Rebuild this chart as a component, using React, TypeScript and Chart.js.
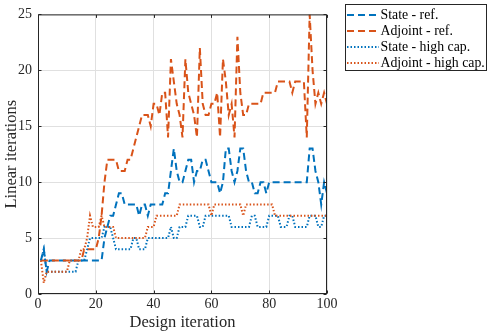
import React, { useEffect, useRef } from "react";
import { Chart, registerables } from "chart.js";

Chart.register(...registerables);

// Design iterations 1..100
const iterations: number[] = Array.from({ length: 100 }, (_, i) => i + 1);

const stateRef: number[] = [
  3, 4, 2, 3, 3, 3, 3, 3, 3, 3,
  3, 3, 3, 3, 3, 3, 3, 3, 3, 3,
  3, 3, 5, 6, 7, 7, 8, 9, 9, 8,
  8, 8, 8, 8, 7, 8, 8, 7, 8, 8,
  8, 8, 8, 9, 9, 11, 13, 11, 10, 10,
  11, 12, 12, 10, 11, 11, 12, 12, 11, 10,
  10, 10, 9, 10, 13, 13, 11, 10, 11, 13,
  13, 11, 10, 10, 9, 9, 10, 10, 9, 10,
  10, 10, 10, 10, 10, 10, 10, 10, 10, 10,
  10, 10, 10, 13, 13, 11, 10, 8, 10, 9,
];

const adjointRef: number[] = [
  3, 3, 3, 3, 3, 3, 3, 3, 3, 3,
  3, 3, 3, 3, 3, 4, 4, 4, 4, 4,
  5, 7, 10, 12, 12, 12, 12, 11, 11, 11,
  12, 12, 13, 14, 15, 16, 16, 16, 15, 17,
  17, 16, 18, 18, 14, 21, 19, 17, 16, 14,
  21, 18, 17, 16, 14, 22, 17, 16, 16, 17,
  17, 18, 14, 21, 19, 16, 17, 14, 23, 18,
  16, 16, 17, 17, 17, 17, 17, 18, 18, 18,
  18, 18, 19, 19, 19, 19, 19, 18, 19, 19,
  19, 19, 14, 25, 20, 17, 18, 17, 18, 17,
];

const stateHigh: number[] = [
  3, 4, 2, 2, 2, 2, 2, 2, 2, 2,
  2, 2, 2, 3, 3, 3, 4, 5, 5, 5,
  5, 5, 6, 6, 6, 5, 4, 4, 4, 4,
  4, 4, 5, 5, 4, 4, 4, 5, 5, 5,
  5, 5, 5, 5, 5, 6, 5, 5, 6, 6,
  6, 7, 7, 7, 7, 6, 6, 7, 7, 7,
  7, 7, 7, 7, 7, 7, 6, 6, 6, 6,
  6, 6, 6, 7, 7, 6, 6, 6, 6, 7,
  7, 7, 7, 6, 6, 6, 7, 7, 6, 6,
  6, 6, 6, 7, 7, 7, 6, 6, 7, 7,
];

const adjointHigh: number[] = [
  3, 1, 2, 2, 2, 2, 2, 2, 2, 2,
  3, 3, 3, 3, 4, 4, 5, 7, 6, 6,
  6, 7, 6, 6, 6, 6, 5, 5, 5, 5,
  5, 5, 5, 5, 5, 5, 5, 6, 6, 6,
  7, 7, 7, 7, 7, 7, 7, 7, 8, 8,
  8, 8, 8, 8, 8, 8, 8, 8, 8, 7,
  8, 8, 8, 8, 8, 8, 8, 8, 8, 8,
  7, 8, 8, 8, 8, 8, 8, 8, 8, 8,
  8, 7, 7, 7, 7, 7, 7, 7, 7, 7,
  7, 7, 7, 7, 7, 7, 7, 7, 7, 7,
];

const seriesLabels = ["State - ref.", "Adjoint - ref.", "State - high cap.", "Adjoint - high cap."];
const xTicks = [0, 20, 40, 60, 80, 100];
const yTicks = [0, 5, 10, 15, 20, 25];

const BLUE = "#0072BD";
const ORANGE = "#D95319";
const AXIS = "#262626";
const FONT = "'Liberation Serif', 'Times New Roman', serif";

export default function App() {
  const canvasRef = useRef<HTMLCanvasElement | null>(null);

  useEffect(() => {
    document.body.style.margin = "0";
    const canvas = canvasRef.current;
    if (!canvas) return;

    const toPts = (vals: number[]) => vals.map((v, i) => ({ x: iterations[i], y: v }));
    const dash = [7, 4];
    const dot = [1.5, 2];

    const datasets = [
      { label: seriesLabels[0], data: toPts(stateRef), borderColor: BLUE, borderDash: dash, order: 4 },
      { label: seriesLabels[1], data: toPts(adjointRef), borderColor: ORANGE, borderDash: dash, order: 3 },
      { label: seriesLabels[2], data: toPts(stateHigh), borderColor: BLUE, borderDash: dot, order: 2 },
      { label: seriesLabels[3], data: toPts(adjointHigh), borderColor: ORANGE, borderDash: dot, order: 1 },
    ].map((d) => ({
      ...d,
      borderWidth: 2,
      pointRadius: 0,
      tension: 0,
      fill: false,
      borderCapStyle: "butt" as const,
      backgroundColor: d.borderColor,
    }));

    const boxPlugin = {
      id: "matlabBox",
      afterDraw(chart: any) {
        const { ctx, chartArea: a, scales } = chart;
        const L = a.left + 0.5, R = a.right - 0.5, T = a.top + 0.5, B = a.bottom - 0.5;
        ctx.save();
        ctx.setLineDash([]);
        ctx.strokeStyle = AXIS;
        ctx.lineWidth = 1;
        ctx.strokeRect(L, T, R - L, B - T);
        const tl = 3;
        ctx.beginPath();
        xTicks.forEach((t) => {
          const px = Math.round(scales.x.getPixelForValue(t)) + 0.5;
          ctx.moveTo(px, B); ctx.lineTo(px, B - tl);
          ctx.moveTo(px, T); ctx.lineTo(px, T + tl);
        });
        yTicks.forEach((t) => {
          const py = Math.round(scales.y.getPixelForValue(t)) + 0.5;
          ctx.moveTo(L, py); ctx.lineTo(L + tl, py);
          ctx.moveTo(R, py); ctx.lineTo(R - tl, py);
        });
        ctx.stroke();

        // legend box
        const lx = 345.5, ly = 4.5, lw = 141, lh = 66;
        ctx.fillStyle = "#ffffff";
        ctx.fillRect(lx, ly, lw, lh);
        ctx.strokeStyle = AXIS;
        ctx.lineWidth = 1;
        ctx.strokeRect(lx, ly, lw, lh);
        const rows = [15, 31, 47, 63];
        chart.data.datasets.forEach((ds: any, i: number) => {
          const y = rows[i];
          ctx.save();
          ctx.setLineDash(ds.borderDash);
          ctx.strokeStyle = ds.borderColor;
          ctx.lineWidth = 2;
          ctx.beginPath();
          ctx.moveTo(347, y);
          ctx.lineTo(379, y);
          ctx.stroke();
          ctx.restore();
          ctx.fillStyle = "#000000";
          ctx.font = `13.8px ${FONT}`;
          ctx.textAlign = "left";
          ctx.textBaseline = "middle";
          ctx.fillText(ds.label, 380.5, y);
        });
        ctx.restore();
      },
    };

    const chart = new Chart(canvas, {
      type: "line",
      data: { datasets: datasets as any },
      options: {
        animation: false,
        responsive: false,
        devicePixelRatio: 1,
        events: [],
        layout: { padding: { left: 0, top: 7, right: 162, bottom: 0 } },
        plugins: { legend: { display: false }, tooltip: { enabled: false } },
        scales: {
          x: {
            type: "linear",
            min: 0,
            max: 100,
            afterFit: (s: any) => { s.height = 40; },
            afterBuildTicks: (s: any) => { s.ticks = xTicks.map((v) => ({ value: v })); },
            ticks: { color: AXIS, padding: 2, font: { family: FONT, size: 14 } },
            grid: { color: "#e0e0e0", lineWidth: 1, drawTicks: false },
            border: { display: false },
            title: {
              display: true,
              text: "Design iteration",
              color: AXIS,
              font: { family: FONT, size: 16.5 },
              padding: { top: 0, bottom: 1 },
            },
          },
          y: {
            type: "linear",
            min: 0,
            max: 25,
            afterFit: (s: any) => { s.width = 38; },
            afterBuildTicks: (s: any) => { s.ticks = yTicks.map((v) => ({ value: v })); },
            ticks: { color: AXIS, padding: 6, font: { family: FONT, size: 14 } },
            grid: { color: "#e0e0e0", lineWidth: 1, drawTicks: false },
            border: { display: false },
            title: {
              display: true,
              text: "Linear iterations",
              color: AXIS,
              font: { family: FONT, size: 16.5 },
              padding: { top: 2, bottom: 0 },
            },
          },
        },
      },
      plugins: [boxPlugin],
    });

    return () => chart.destroy();
  }, []);

  return (
    <div style={{ position: "fixed", left: 0, top: 0, width: 489, height: 334, background: "#fff" }}>
      <canvas ref={canvasRef} width={489} height={334} style={{ display: "block" }} />
    </div>
  );
}
